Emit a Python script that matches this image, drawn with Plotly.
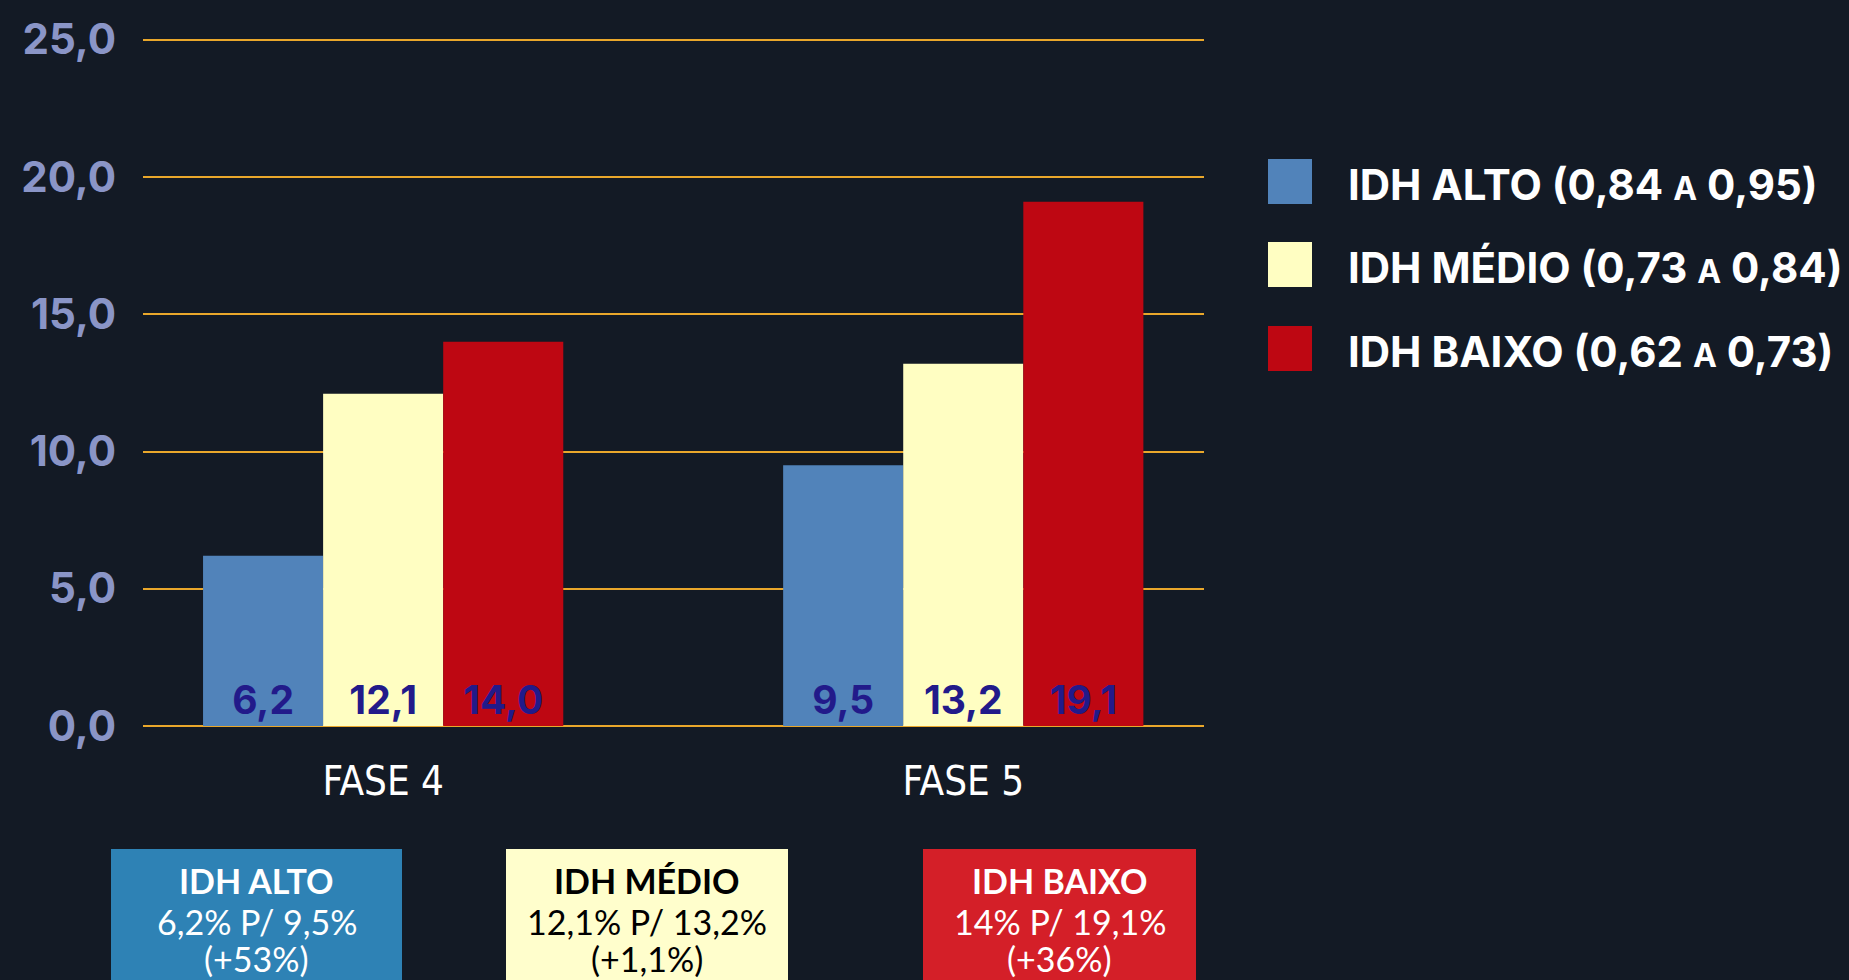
import plotly.graph_objects as go

# ---- data ----
phases = ["FASE 4", "FASE 5"]
series_names = ["IDH ALTO", "IDH MÉDIO", "IDH BAIXO"]
series_ranges = ["(0,84 <span style='font-size:32px'>A</span> 0,95)",
                 "(0,73 <span style='font-size:32px'>A</span> 0,84)",
                 "(0,62 <span style='font-size:32px'>A</span> 0,73)"]
idh_alto = [6.2, 9.5]
idh_medio = [12.1, 13.2]
idh_baixo = [14.0, 19.1]
variation = ["(+53%)", "(+1,1%)", "(+36%)"]
y_ticks = [0, 5, 10, 15, 20, 25]

bar_colors = ["#5183BA", "#FFFEC2", "#BE0712"]
box_colors = ["#2E82B5", "#FFFECC", "#D41F28"]
box_text_colors = ["#FFFFFF", "#000000", "#FFFFFF"]

BG = "#131A25"
GRID = "#E9A72B"


def fmt(v):
    return f"{v:.1f}".replace(".", ",")


def fmt_short(v):
    s = f"{v:.1f}".rstrip("0").rstrip(".")
    return s.replace(".", ",")


fig = go.Figure()
all_series = [idh_alto, idh_medio, idh_baixo]
x_idx = list(range(len(phases)))
for name, vals, col in zip(series_names, all_series, bar_colors):
    fig.add_trace(go.Bar(
        x=x_idx, y=vals, name=name, marker=dict(color=col, line=dict(width=0)),
        text=[fmt(v) for v in vals], textposition="inside", insidetextanchor="start",
        textangle=0, constraintext="none",
        textfont=dict(family="Inter", size=39, color="#221A8A", weight="bold"),
        showlegend=False, hoverinfo="skip",
    ))

# ---- layout geometry (pixels -> paper) ----
L, R, T, B = 143, 1204, 37, 726
W, H = R - L, B - T
YMAX = 25.1


def px(xp):
    return (xp - L) / W


def py(yp):
    return (B - yp) / H


shapes = []
annotations = []

# custom legend
leg_tops = [159, 242, 326]
for i, (name, rng, col) in enumerate(zip(series_names, series_ranges, bar_colors)):
    t = leg_tops[i]
    shapes.append(dict(type="rect", xref="paper", yref="paper",
                       x0=px(1268), x1=px(1312), y0=py(t + 45), y1=py(t),
                       fillcolor=col, line=dict(width=0), layer="above"))
    annotations.append(dict(xref="paper", yref="paper", x=px(1346), y=py(t + 25),
                            xanchor="left", yanchor="middle", showarrow=False,
                            text=f"{name} {rng}",
                            font=dict(family="Inter", size=42, color="#FFFFFF", weight="bold")))

# bottom summary boxes
boxes = [(111, 402), (506, 788), (923, 1196)]
line_y = [880, 921, 958]
for i, (x0, x1) in enumerate(boxes):
    shapes.append(dict(type="rect", xref="paper", yref="paper",
                       x0=px(x0), x1=px(x1), y0=py(1000), y1=py(849),
                       fillcolor=box_colors[i], line=dict(width=0), layer="above"))
    vals = all_series[i]
    lines = [f"<b>{series_names[i]}</b>",
             f"{fmt_short(vals[0])}% P/ {fmt_short(vals[1])}%",
             variation[i]]
    for ly, txt in zip(line_y, lines):
        annotations.append(dict(xref="paper", yref="paper", x=px((x0 + x1) / 2), y=py(ly),
                                xanchor="center", yanchor="middle", showarrow=False,
                                text=txt, align="center",
                                font=dict(family="Lato", size=34, color=box_text_colors[i])))

fig.update_layout(
    width=1849, height=980,
    margin=dict(l=L, r=1849 - R, t=T, b=980 - B, pad=0),
    paper_bgcolor=BG, plot_bgcolor=BG,
    barmode="group", bargap=0.379, bargroupgap=0,
    separators=",.",
    showlegend=False,
    shapes=shapes, annotations=annotations,
    xaxis=dict(tickmode="array", tickvals=x_idx, ticktext=phases,
               range=[-0.414, 1.415], showgrid=False, zeroline=False,
               showline=False, ticks="", ticklabelstandoff=28,
               tickfont=dict(family="Liberation Sans Narrow, DejaVu Sans Condensed, Roboto",
                             size=40, color="#FFFFFF")),
    yaxis=dict(range=[0, YMAX], tickvals=y_ticks, tickformat=".1f",
               showgrid=True, gridcolor=GRID, gridwidth=2,
               zeroline=True, zerolinecolor=GRID, zerolinewidth=2,
               showline=False, ticks="", ticklabelstandoff=26,
               tickfont=dict(family="Inter", size=42, color="#8A95C7", weight="bold")),
)

fig.write_html(
    "out.html",
    config={"displayModeBar": False},
    post_script="document.body.style.margin='0';document.body.style.overflow='hidden';"
                "document.body.style.background='#131A25';",
)
